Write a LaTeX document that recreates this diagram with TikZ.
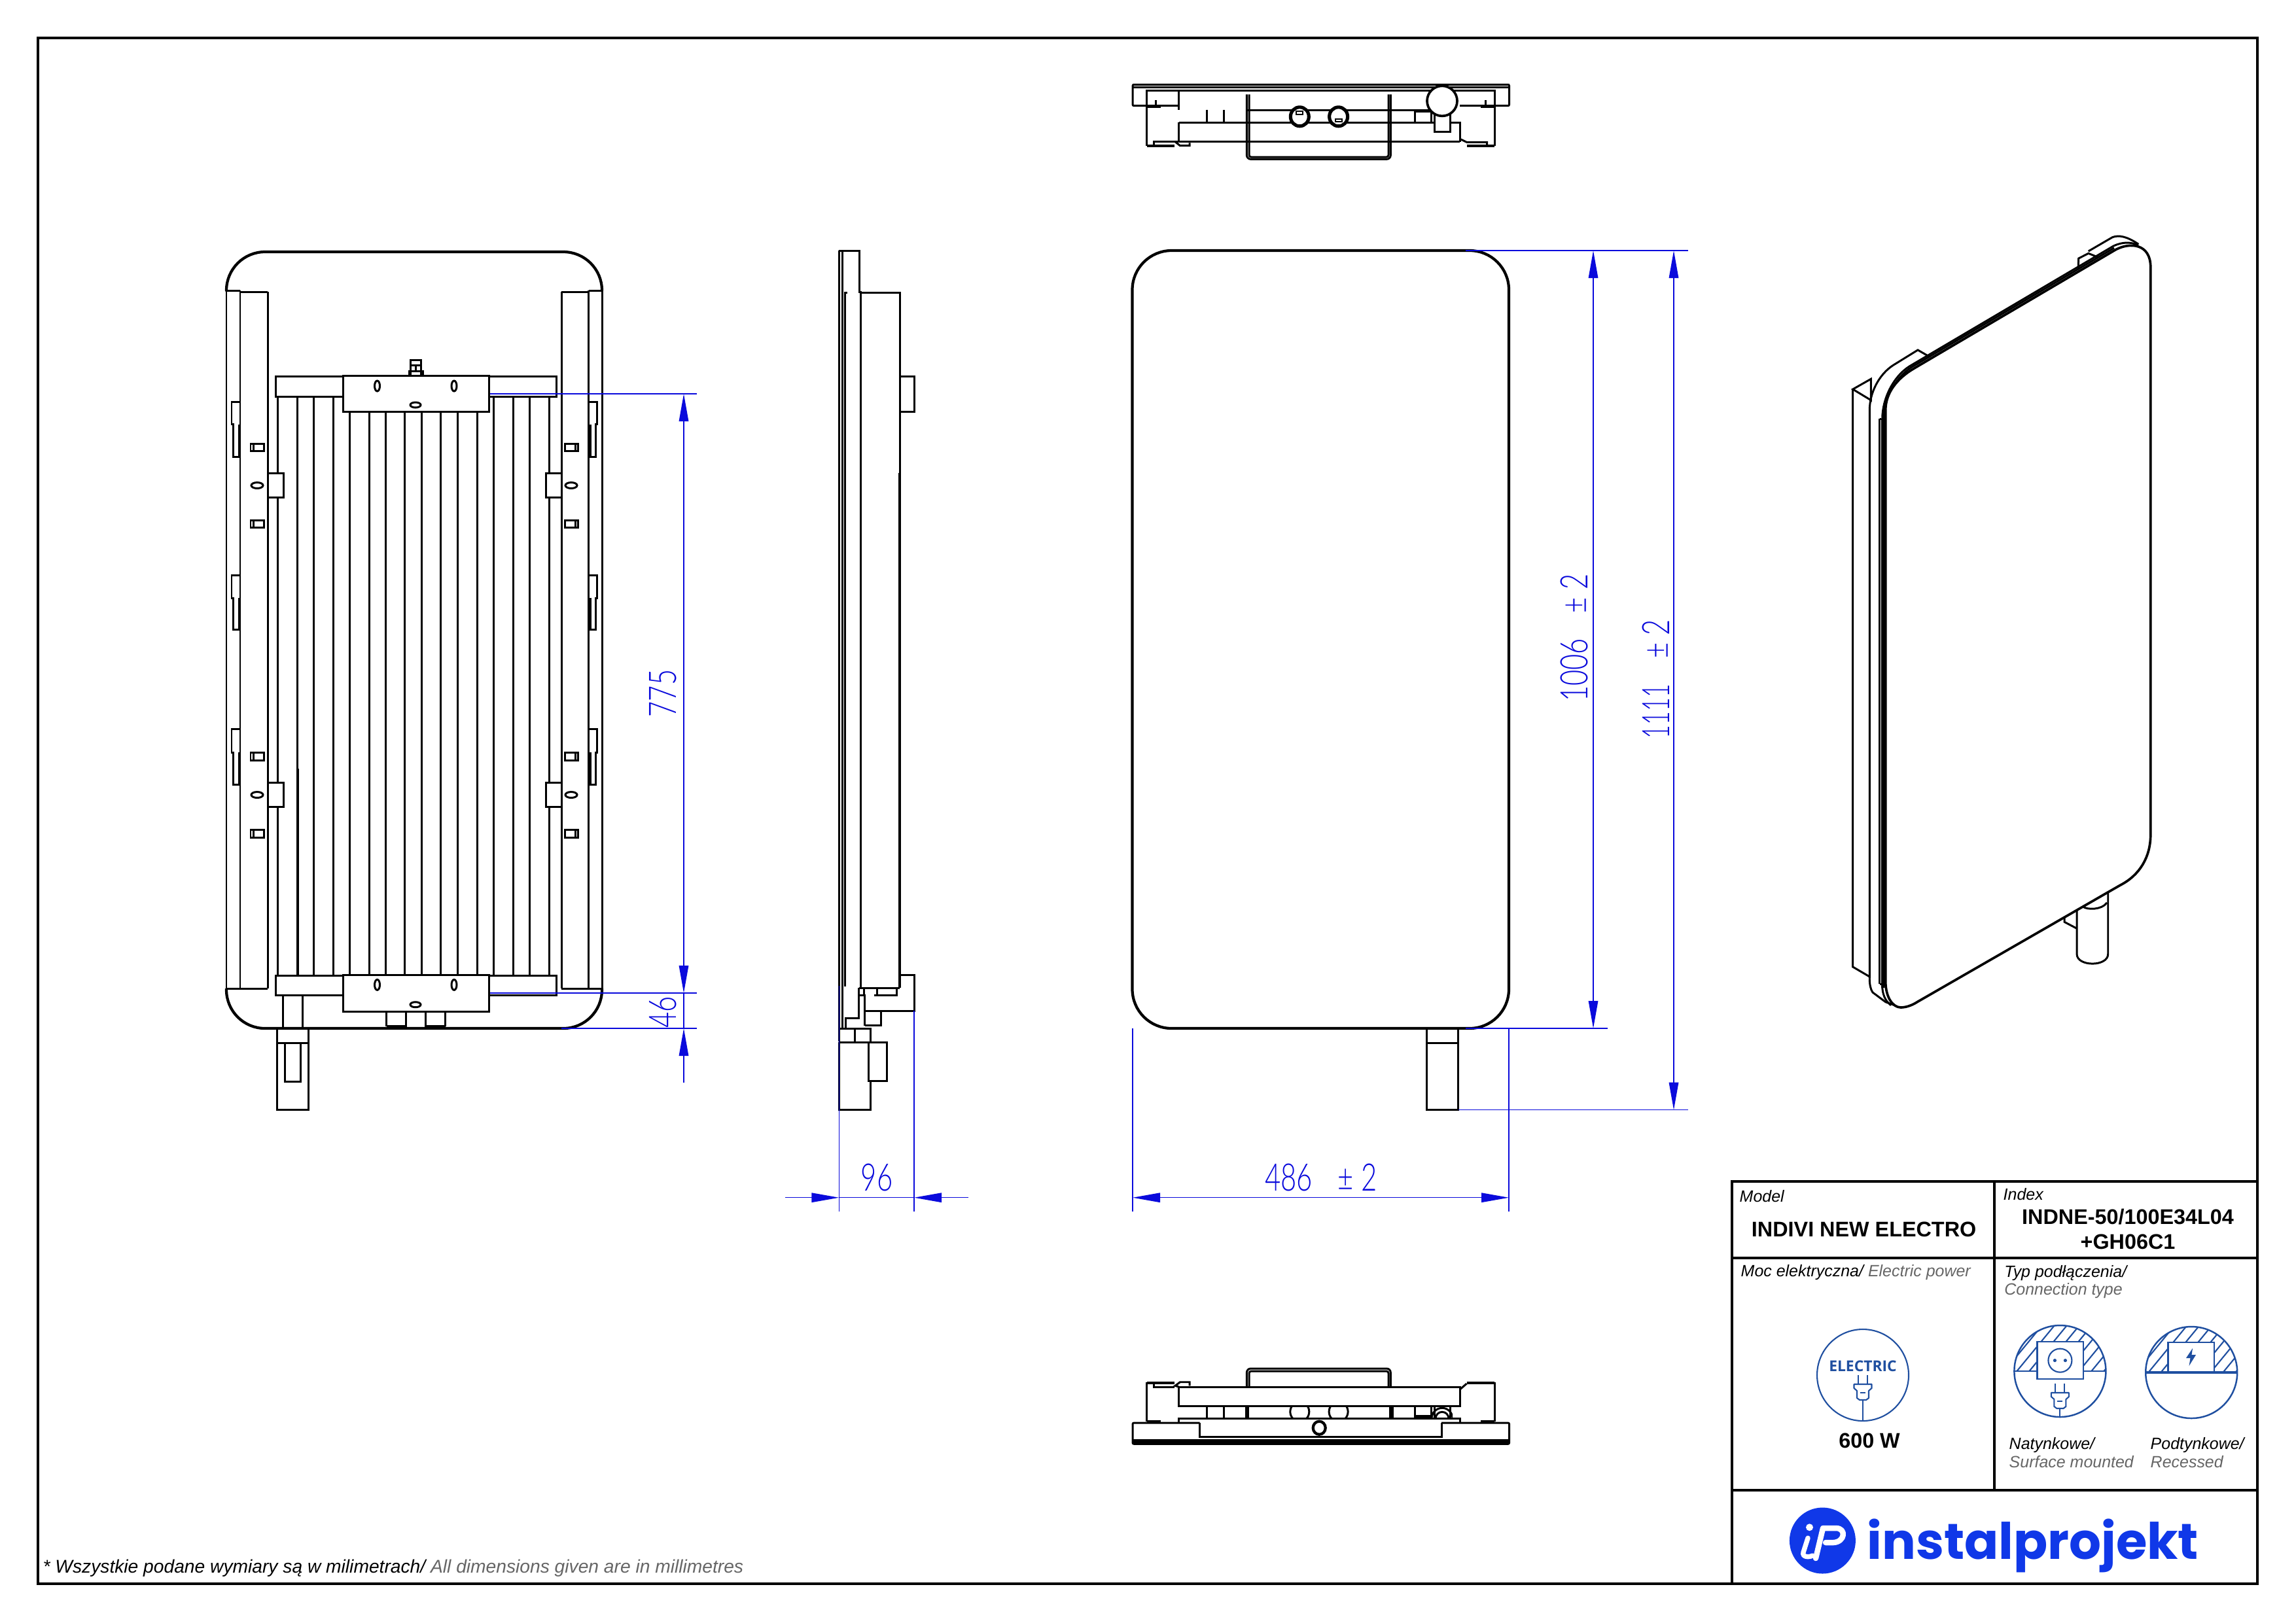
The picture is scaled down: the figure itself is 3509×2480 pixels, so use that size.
\documentclass[tikz,border=0pt]{standalone}
\usepackage{fontspec}
\usepackage{graphicx}
\setmainfont{Liberation Sans}
\newfontfamily\dimf[FakeStretch=0.72]{Lato Light}
\newfontfamily\dimg[FakeStretch=0.62]{Lato Light}
\newfontfamily\logof{Poppins}
\newfontfamily\iconf{Open Sans}
\usetikzlibrary{arrows.meta}
\definecolor{dimblue}{HTML}{0A0ADC}
\definecolor{iconblue}{HTML}{1F4FA0}
\definecolor{logoblue}{HTML}{1038E8}
\definecolor{txtgray}{HTML}{666666}
\tikzset{
  ln/.style={line width=0.85pt,line join=miter,line cap=butt},
  thk/.style={line width=1.2pt,line join=round},
  frm/.style={line width=0.95pt},
  dim/.style={draw=dimblue,line width=0.42pt},
  tipa/.style={-{Triangle[length=4.2mm,width=1.45mm]}},
  tipb/.style={{Triangle[length=4.2mm,width=1.45mm]}-{Triangle[length=4.2mm,width=1.45mm]}},
  dimtxt/.style={inner sep=0pt,text=dimblue,font=\dimf\fontsize{16.5}{18}\selectfont},
  ital/.style={inner sep=0pt,anchor=base west,font=\itshape\fontsize{7.1}{8}\selectfont},
  boldt/.style={inner sep=0pt,anchor=base,font=\bfseries\fontsize{9.2}{11}\selectfont},
  ic/.style={draw=iconblue,line width=0.6pt},
}
\newcommand{\plugicon}[2]{%
  \begin{scope}[shift={(#1,#2)}]
    \draw[ic] (-7,-14)--(-7,0) (7,-14)--(7,0);
    \draw[ic,line join=round] (-13.5,0)--(13.5,0)--(13.5,6)--(9,10)--(9,21)--(5,24)--(-5,24)--(-9,21)--(-9,10)--(-13.5,6)--cycle;
    \draw[ic] (-4,13)--(4,13);
  \end{scope}}
\begin{document}
\begin{tikzpicture}[x=0.01cm,y=-0.01cm]
\useasboundingbox (0,0) rectangle (3509,2480);
\fill[white] (0,0) rectangle (3509,2480);
% ---- sheet frame and title block
\draw[frm] (58,58) rectangle (3450,2421);
\draw[frm] (2647,2421)--(2647,1806)--(3450,1806);
\draw[frm] (3048,1806)--(3048,2278);
\draw[frm] (2647,1923)--(3450,1923);
\draw[frm] (2647,2278)--(3450,2278);
% ---- left view : rear
\foreach \x in {424,454,479.6,509,754,784,809,839} \draw[ln] (\x,606)--(\x,1491.7);
\foreach \x in {534.7,564,589,618,644,673.5,699.5,729} \draw[ln] (\x,629)--(\x,1491);
\draw[line width=1.15pt] (455,1175)--(455,1491.7);
\draw[ln] (346,444)--(346,1511) (367,444)--(367,1511) (409,446)--(409,1511) (367,446)--(409,446);
\draw[ln] (920,444)--(920,1511) (899.5,444)--(899.5,1511) (858,446)--(858,1511) (858,446)--(899.5,446);
\draw[ln] (346,444)--(367,444) (899.5,444)--(920,444);
\draw[ln] (346,1511)--(409,1511) (858,1511)--(920,1511);
\draw[thk,rounded corners=0.59cm] (346,444)--(346,385)--(920,385)--(920,444);
\draw[thk,rounded corners=0.59cm] (346,1511)--(346,1572)--(920,1572)--(920,1511);
\draw[ln,fill=white] (421,575.5) rectangle (850,606);
\draw[ln,fill=white] (421,1491.7) rectangle (850,1521.6);
\draw[dim] (747,602)--(1065,602);
\draw[dim,line width=0.75pt] (747,1518)--(1065,1518);
\draw[dim] (858,1572)--(1065,1572);
\draw[ln,fill=white] (524.5,574.5) rectangle (747,629.6);
\draw[ln,fill=white] (524.5,1490.5) rectangle (747,1546);
\foreach \y in {590,1505.4} {
  \draw[ln] (576.5,\y) ellipse [x radius=4,y radius=8];
  \draw[ln] (694,\y) ellipse [x radius=4,y radius=8];
}
\draw[ln] (635,619) ellipse [x radius=8,y radius=4];
\draw[ln] (635,1535.7) ellipse [x radius=8,y radius=4];
\draw[ln] (627.5,573.5)--(627.5,550)--(643.4,550)--(643.4,573.5) (627.5,558)--(643.4,558) (635.5,558)--(635.5,567);
\draw[ln] (625,574.5)--(625,567)--(646,567)--(646,574.5);
% side tabs and slots
\foreach \a/\b/\c in {723.5/760/742,1196/1233/1215} {
  \draw[ln,fill=white] (409,\a) rectangle (433.7,\b);
  \draw[ln,fill=white] (834,\a) rectangle (858,\b);
  \draw[ln] (393,\c) ellipse [x radius=9,y radius=4.5];
  \draw[ln] (873,\c) ellipse [x radius=9,y radius=4.5];
}
\foreach \a/\b in {678/689,795.4/806.6,1150.6/1162,1268.5/1280} {
  \draw[ln] (383,\a) rectangle (403.5,\b) (387,\a)--(387,\b);
  \draw[ln] (863,\a) rectangle (883,\b) (879,\a)--(879,\b);
}
\foreach \a/\b/\c in {614/648.5/698,879/914/962,1114.5/1150/1199} {
  \draw[ln] (366,\a)--(354,\a)--(354,\b)--(356.6,\b)--(356.6,\c)--(365,\c)--(365,\b);
  \draw[ln] (901,\a)--(912,\a)--(912,\b)--(910,\b)--(910,\c)--(902,\c)--(902,\b);
}
% bottom pieces
\draw[ln] (432.6,1521.6)--(432.6,1571) (462,1521.6)--(462,1571);
\draw[ln] (590.8,1546)--(590.8,1569) (620.4,1546)--(620.4,1571) (650,1546)--(650,1571) (680.6,1546)--(680.6,1569);
\draw[line width=1.2pt] (590.8,1569)--(620.4,1569) (650,1569)--(680.6,1569);
\draw[ln] (423.5,1572) rectangle (471.4,1696.7);
\draw[ln] (423.5,1594)--(471.4,1594);
\draw[ln] (435.7,1594)--(435.7,1653)--(459.7,1653)--(459.7,1594);
% ---- side view
\draw[ln] (1282.3,383.3)--(1282.3,1592);
\draw[ln] (1287.7,383.3)--(1287.7,1572.7);
\draw[ln] (1282.3,383.3)--(1313,383.3)--(1313,446)--(1315.7,446)--(1315.7,1510);
\draw[ln] (1291.7,1508)--(1291.7,447)--(1295,447);
\draw[ln] (1315.7,447)--(1375,447)--(1375,1510);
\draw[ln] (1375,575)--(1397,575)--(1397,629.3)--(1375,629.3);
\draw[line width=1.05pt] (1375,723)--(1375,1510);
\draw[ln] (1312.7,1510)--(1375,1510);
\draw[ln] (1375,1490)--(1397,1490)--(1397,1545)--(1321.7,1545);
\draw[ln] (1312.7,1510)--(1312.7,1556.7)--(1292.3,1556.7)--(1292.3,1571.7);
\draw[ln] (1312.7,1521.7)--(1321.7,1521.7)--(1321.7,1568);
\draw[ln] (1320,1510)--(1320,1521.7) (1340,1510)--(1340,1521.7) (1336,1521.7)--(1370.7,1521.7)--(1370.7,1510);
\draw[ln] (1346.7,1545)--(1346.7,1567.7)--(1321.7,1567.7);
\draw[ln] (1282.3,1572.7)--(1330.7,1572.7)--(1330.7,1593) (1306.7,1572.7)--(1306.7,1593);
\draw[ln] (1282.3,1593)--(1355,1593)--(1355,1652.7)--(1327.3,1652.7)--(1327.3,1593);
\draw[ln] (1282.3,1593)--(1282.3,1696)--(1330.7,1696)--(1330.7,1652.7);
% ---- top view
\draw[ln] (1731,129.3)--(2306.6,129.3) (1731,133)--(2306.6,133);
\draw[ln,rounded corners=0.02cm] (1801.7,161.7)--(1731,161.7)--(1731,129.3)--(2306.6,129.3)--(2306.6,161.7)--(2231,161.7);
\draw[ln] (1752.7,222.7)--(1752.7,138.3)--(2284,138.3)--(2284,222.7);
\draw[line width=1.15pt] (1752.7,222.7)--(1795.4,222.7) (2241.5,222.7)--(2284,222.7);
\draw[line width=1.15pt] (1752.7,163)--(1774,163) (2263,163)--(2284,163);
\draw[ln] (1766.4,153)--(1766.4,163) (2270.5,153)--(2270.5,163);
\draw[ln] (1801.7,138.3)--(1801.7,168) (1801.7,187.3)--(1801.7,216.7);
\draw[ln] (1907,168.3)--(2187,168.3);
\draw[ln] (1801.7,187.3)--(2231,187.3)--(2231,216.7);
\draw[ln] (1801.7,216.7)--(2231,216.7);
\draw[ln] (1763,222.7)--(1763,216.7)--(1795.4,216.7);
\draw[ln] (1801.7,216.7)--(1796,216.7)--(1803.5,222.7)--(1818,222.7)--(1818,218.3);
\draw[ln] (2232,212.7)--(2241.5,217.3)--(2272.6,217.3)--(2272.6,222.7);
\draw[ln] (1844,167.7)--(1844,187.3)--(1870,187.3)--(1870,167.7);
\draw[ln] (2162.7,170.7) rectangle (2187.6,187.3);
\draw[ln] (2187.6,170)--(2187.6,187.3);
\draw[ln,fill=white] (2192.5,165)--(2192.5,201.7)--(2216.6,201.7)--(2216.6,165);
\draw[ln,rounded corners=0.06cm] (1905.4,144.3)--(1905.4,243.3)--(2125.3,243.3)--(2125.3,144.3);
\draw[ln,rounded corners=0.03cm] (1909,144.3)--(1909,240)--(2122,240)--(2122,144.3);
\foreach \x/\a/\b in {1986.3/170/175,2045.6/181.6/186} {
  \draw[line width=1.45pt,fill=white] (\x,178.3) ellipse [x radius=14,y radius=14.5];
  \draw[line width=0.6pt] (\x-5,\a) rectangle (\x+5,\b);
}
\draw[line width=1.05pt,fill=white] (2204,154.3) circle [radius=23];
% ---- front view
\draw[thk,rounded corners=0.6cm] (1730.5,383)--(2306,383)--(2306,1572)--(1730.5,1572)--cycle;
\draw[ln] (2180.6,1572) rectangle (2228.5,1696.7);
\draw[ln] (2180.6,1594)--(2228.5,1594);
% ---- bottom view
\draw[ln,rounded corners=0.02cm] (1833.6,2175)--(1731,2175)--(1731,2207.3)--(2306.6,2207.3)--(2306.6,2175)--(2203,2175);
\draw[ln] (1731,2204)--(2306.6,2204);
\draw[line width=1.15pt] (1731,2201.7)--(2306.6,2201.7);
\draw[ln] (1833.6,2175)--(1833.6,2196.7)--(2203,2196.7)--(2203,2175);
\draw[ln] (1752.7,2173.3)--(1752.7,2114.3)--(1795.4,2114.3) (2241.5,2114.3)--(2284,2114.3)--(2284,2173.3);
\draw[line width=1.15pt] (1752.7,2173.3)--(1774,2173.3) (2263,2173.3)--(2284,2173.3);
\draw[line width=1.15pt] (1752.7,2114.3)--(1795.4,2114.3) (2241.5,2114.3)--(2284,2114.3);
\draw[ln] (1763,2114.3)--(1763,2120)--(1795.4,2120) ;
\draw[ln] (1801.7,2120)--(1796,2118.3)--(1803.5,2112.7)--(1818,2112.7)--(1818,2118.3);
\draw[ln] (2232,2123.3)--(2241.5,2115);
\draw[ln] (1801.7,2120) rectangle (2231,2149);
\draw[ln] (1801.7,2175)--(1801.7,2168.3)--(2231,2168.3)--(2231,2175);
\foreach \x in {1844,1870,1907,2128.3,2162,2187.6,2192.5,2216.6} \draw[ln] (\x,2149)--(\x,2168.3);
\draw[line width=1.15pt] (2162,2165)--(2188,2165);
\draw[line width=1.15pt] (1905.4,2149)--(1905.4,2168.3) (2125.3,2149)--(2125.3,2168.3);
\draw[ln,rounded corners=0.06cm] (1905.4,2120)--(1905.4,2092)--(2125.3,2092)--(2125.3,2120);
\draw[ln,rounded corners=0.03cm] (1909,2120)--(1909,2096)--(2122,2096)--(2122,2120);
\begin{scope}
  \clip (1950,2149.5) rectangle (2220,2167.5);
  \draw[ln] (1986.3,2158) ellipse [x radius=14.5,y radius=15];
  \draw[ln] (2045.6,2158) ellipse [x radius=14.5,y radius=15];
  \draw[ln] (2204,2168.3) circle [radius=16];
  \draw[ln] (2204,2168.3) circle [radius=10];
\end{scope}
\draw[line width=1.2pt] (2016.2,2182.7) ellipse [x radius=9.5,y radius=10];
% ---- perspective view
\draw[ln] (2831.7,595)--(2859.3,579.3)--(2859.3,611.7)--cycle;
\draw[ln] (2831.7,595)--(2831.7,1478)--(2857.3,1493);
\draw[ln] (3174,1391.7)--(3174,1458.3) .. controls (3174,1478) and (3221.7,1478) .. (3221.7,1458.3)--(3221.7,1365);
\draw[ln] (3183.3,1386) .. controls (3190,1391) and (3212,1391) .. (3220,1380);
\draw[ln] (3155,1402.7)--(3155,1409.3)--(3174,1419.3);
\draw[ln] (2857.3,1496.7)--(2857.3,626.7) .. controls (2857.3,600) and (2872,572) .. (2893.3,558.3)--(2931,535)--(2948.3,545);
\draw[ln] (2857.3,1496.7) .. controls (2857.3,1505) and (2859,1513) .. (2862,1517)--(2881.7,1531.7)--(2905,1540);
\draw[ln] (3176,412)--(3176.7,395)--(3191.7,387.3)--(3206.7,393.3);
\draw[ln] (3191.7,384)--(3228.3,362.7) .. controls (3238,359) and (3250,361) .. (3268.3,373.3);
\draw[ln] (2872.7,640)--(2872.7,1504) (2872.7,640)--(2875,640) (2872.7,1504)--(2875,1504);
\draw[ln] (2876.7,1510)--(2876.7,640) .. controls (2876.7,610) and (2893,576) .. (2918,560)--(3230,376) .. controls (3245,369) and (3258,370) .. (3268,375);
\draw[ln] (2876.7,1510) .. controls (2878,1525) and (2884,1532) .. (2890,1536.7);
\draw[ln] (2879.2,1510)--(2879.2,640) .. controls (2879.2,610) and (2896,578) .. (2921,561.5)--(3231,379);
\draw[line width=1.05pt,fill=white] (2881.7,626.7) .. controls (2881.7,600) and (2900,578) .. (2925,563.3)--(3233.3,381.7) .. controls (3255,370) and (3286.7,372) .. (3286.7,408.3)--(3286.7,1275) .. controls (3287,1310) and (3270,1338) .. (3240,1353.3)--(2930,1531.7) .. controls (2925,1535) and (2915,1540) .. (2905,1540) .. controls (2893,1540) and (2881.7,1525) .. (2881.7,1500)--cycle;
% ---- dimensions
\draw[dim] (1282.3,1507)--(1282.3,1851.7);
\draw[dim] (1397,1545)--(1397,1851.7);
\draw[dim] (1731,1572)--(1731,1851.7);
\draw[dim] (2306,1572)--(2306,1851.7);
\draw[dim] (2240,383)--(2580,383);
\draw[dim] (2240,1572)--(2457,1572);
\draw[dim] (2229,1696.7)--(2580,1696.7);
\coordinate (a1) at (1045,602); \coordinate (a2) at (1045,1518); \coordinate (a3) at (1045,1572); \coordinate (a4) at (1045,1655);
\draw[dim,tipb] (a1)--(a2);
\draw[dim] (a2)--(a3);
\draw[dim,tipa] (a4)--(a3);
\coordinate (b1) at (1200,1830.7); \coordinate (b2) at (1282.3,1830.7); \coordinate (b3) at (1397,1830.7); \coordinate (b4) at (1480,1830.7);
\draw[dim,tipa] (b1)--(b2);
\draw[dim] (b2)--(b3);
\draw[dim,tipa] (b4)--(b3);
\coordinate (c1) at (1731,1830.7); \coordinate (c2) at (2306,1830.7);
\draw[dim,tipb] (c1)--(c2);
\coordinate (d1) at (2435,383); \coordinate (d2) at (2435,1572);
\draw[dim,tipb] (d1)--(d2);
\coordinate (e1) at (2558,383); \coordinate (e2) at (2558,1696.7);
\draw[dim,tipb] (e1)--(e2);
\node[dimtxt,rotate=90] (t775) at (1013,1060) {775};
\node[dimtxt,rotate=90] (t46) at (1013,1547) {46};
\node[dimtxt] (t96) at (1340,1800) {96};
\node[dimtxt] (t486) at (2019,1800) {486\hspace{11pt}± 2};
\node[dimtxt,rotate=90] (t1006) at (2406,975) {1006\hspace{11pt}± 2};
\node[dimtxt,rotate=90] (t1111) at (2531,1038) {{\dimg 1111}\hspace{11pt}± 2};
% ---- title block text
\node[ital] (tmodel) at (2658,1837.5) {Model};
\node[ital] (tindex) at (3061,1834.7) {Index};
\node[boldt] (tname) at (2848.6,1890) {INDIVI NEW ELECTRO};
\node[boldt] (tcode) at (3252,1871.4) {INDNE-50/100E34L04};
\node[boldt] (tcode2) at (3252,1909) {+GH06C1};
\node[ital] (tmoc) at (2660,1951) {Moc elektryczna/ \textcolor{txtgray}{Electric power}};
\node[ital] (ttyp) at (3062.6,1952) {Typ podłączenia/};
\node[ital,text=txtgray] (tconn) at (3062.6,1979.6) {Connection type};
\node[ital] (tnat) at (3070,2215.5) {Natynkowe/};
\node[ital,text=txtgray] (tsurf) at (3070,2243) {Surface mounted};
\node[ital] (tpod) at (3286,2215.5) {Podtynkowe/};
\node[ital,text=txtgray] (trec) at (3286,2243) {Recessed};
\node[boldt] (tw) at (2857,2213) {600 W};
\node[ital,font=\itshape\fontsize{8.02}{10}\selectfont] (tnote) at (65,2404) {* Wszystkie podane wymiary są w milimetrach/ \textcolor{txtgray}{All dimensions given are in millimetres}};
% ---- electric icon
\draw[ic] (2847,2102) circle [radius=70];
\node[inner sep=0pt,text=iconblue,font=\iconf\bfseries\fontsize{6.5}{7}\selectfont] (tel) at (2847,2088) {ELECTRIC};
\plugicon{2847}{2116}
\draw[ic] (2847,2140)--(2847,2172);
% ---- surface icon
\begin{scope}
  \clip (3148.4,2096) circle [radius=70];
  \clip (3070,2020) rectangle (3230,2096);
  \foreach \i in {0,...,12} \draw[ic] (3060+\i*19,2100)--++(70,-85);
\end{scope}
\draw[ic,line width=0.7pt] (3148.4,2096) circle [radius=70];
\draw[ic] (3078.4,2096)--(3218.4,2096);
\draw[ic,line width=0.7pt,fill=white] (3113.3,2051) rectangle (3184,2108);
\draw[ic] (3148.4,2079.6) circle [radius=18];
\fill[iconblue] (3140.4,2079.6) circle [radius=2.6] (3156.4,2079.6) circle [radius=2.6];
\plugicon{3148.4}{2129}
\draw[ic] (3148.4,2153)--(3148.4,2166);
% ---- recessed icon
\begin{scope}
  \clip (3349.2,2098) circle [radius=70];
  \clip (3270,2020) rectangle (3430,2098);
  \foreach \i in {0,...,12} \draw[ic] (3261+\i*19,2102)--++(70,-85);
\end{scope}
\draw[ic,line width=0.7pt] (3349.2,2098) circle [radius=70];
\draw[ic,line width=0.9pt] (3279.2,2098)--(3419.2,2098);
\draw[ic,line width=0.7pt,fill=white] (3313.6,2052) rectangle (3384,2097);
\fill[iconblue] (3351,2061)--(3341,2076)--(3347.5,2076)--(3345.5,2088)--(3356,2071)--(3349.5,2071)--cycle;
% ---- logo
\fill[logoblue] (2785.4,2355) circle [radius=50.5];
\fill[white] (2765.5,2334.7) circle [radius=5.5];
\draw[white,line width=2.1pt,line cap=round] (2763,2351)--(2756,2373) .. controls (2754,2380) and (2764,2381) .. (2770,2378);
\draw[white,line width=2.4pt,line cap=round,line join=round] (2775,2382)--(2786,2336)--(2806,2336) .. controls (2822,2336) and (2820,2357) .. (2802,2358)--(2790,2358);
\node[inner sep=0pt,anchor=base west,text=logoblue] (tlogo) at (2853,2383.7) {\resizebox{144pt}{!}{\logof\bfseries\fontsize{20}{24}\selectfont instalprojekt}};
\end{tikzpicture}
\end{document}
